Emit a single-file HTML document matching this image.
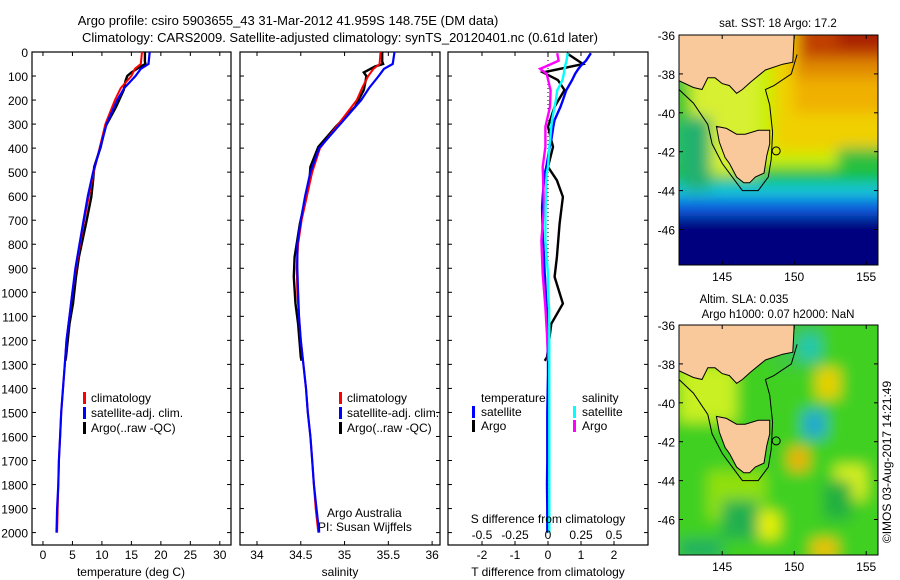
<!DOCTYPE html>
<html><head><meta charset="utf-8"><style>
body{margin:0;background:#fff;}
svg{display:block;font-family:"Liberation Sans",sans-serif;}
</style></head><body>
<svg id="c" width="900" height="580" viewBox="0 0 900 580" xmlns="http://www.w3.org/2000/svg">
<defs>
<filter id="bl" x="-20%" y="-20%" width="140%" height="140%"><feGaussianBlur stdDeviation="7"/></filter>
<clipPath id="m1"><rect x="679" y="35" width="199" height="230"/></clipPath>
<clipPath id="m2"><rect x="679" y="325" width="199" height="230"/></clipPath>
</defs>
<g font-size="13" text-anchor="middle" fill="#000">
<text x="288" y="25">Argo profile: csiro 5903655_43 31-Mar-2012 41.959S 148.75E (DM data)</text>
<text x="340" y="42">Climatology: CARS2009. Satellite-adjusted climatology: synTS_20120401.nc (0.61d later)</text>
</g>
<g id="plots"></g>
<g id="maps"></g>
<text transform="translate(891,462) rotate(-90)" font-size="12" text-anchor="middle">©IMOS 03-Aug-2017 14:21:49</text>
</svg>
<script>
// ---- data ----
const depthTicks=[0,100,200,300,400,500,600,700,800,900,1000,1100,1200,1300,1400,1500,1600,1700,1800,1900,2000];
const tTicks=[0,5,10,15,20,25,30];
const sTicks=[34,34.5,35,35.5,36];
const dTTicks=[-2,-1,0,1,2];
const dSTicks=["-0.5","-0.25","0","0.25","0.5"];
const climDepth=[0,50,70,100,150,200,300,400,500,600,700,800,900,1000,1100,1200,1300,1400,1500,1600,1700,1800,1900,2000];
const climT=[16.8,16.6,15.6,15.0,13.2,12.2,10.6,9.6,8.6,7.8,7.0,6.3,5.6,5.0,4.5,4.0,3.7,3.4,3.1,2.9,2.7,2.6,2.5,2.4];
const satT=[18.1,17.9,16.6,15.7,13.8,12.6,10.8,9.7,8.5,7.6,6.9,6.2,5.5,5.0,4.5,4.0,3.7,3.4,3.1,2.9,2.7,2.6,2.4,2.3];
const argoDepth=[0,40,50,60,85,100,120,158,228,311,395,478,534,603,714,853,936,1047,1131,1270,1285];
const argoT=[17.3,17.3,17.4,16.6,15.0,14.3,14.0,13.7,12.4,10.6,9.8,8.7,8.5,8.2,7.3,6.1,5.6,5.1,4.5,3.9,3.8];
const climS=[35.41,35.40,35.33,35.27,35.20,35.14,34.93,34.72,34.63,34.57,34.51,34.47,34.455,34.46,34.48,34.50,34.53,34.56,34.58,34.61,34.63,34.65,34.67,34.70];
const satS=[35.57,35.55,35.45,35.39,35.28,35.19,34.95,34.71,34.61,34.55,34.50,34.46,34.46,34.47,34.48,34.50,34.53,34.56,34.58,34.61,34.63,34.65,34.68,34.71];
const argoS=[35.43,35.43,35.44,35.35,35.22,35.25,35.24,35.22,35.12,34.90,34.70,34.61,34.60,34.56,34.49,34.43,34.42,34.44,34.47,34.50,34.51];
const diffDepth=[5,36,56,62,70,91,117,160,200,228,283,311,367,395,478,506,534,603,646,714,785,853,924,936,1047,1063,1131,1250,1270,1285,1340,1500,1700,1800,1900,2000];
const satDT=[1.3,1.15,1.0,0.97,0.92,0.82,0.73,0.55,0.45,0.38,0.2,0.16,0.1,0.05,-0.05,-0.1,-0.12,-0.16,-0.18,-0.17,-0.15,-0.12,-0.1,-0.09,-0.05,-0.04,-0.03,-0.01,0,0,0,-0.02,-0.02,-0.03,-0.02,-0.02];
const argoDTDepth=[5,50,85,117,158,228,311,395,478,534,603,714,853,936,1047,1131,1270,1285];
const argoDT=[0.57,1.06,-0.15,0.3,0.5,0.2,0.0,0.15,0.0,0.27,0.45,0.35,0.27,0.2,0.45,0.1,-0.03,-0.1];
const satDS=[0.15,0.14,0.13,0.13,0.125,0.12,0.11,0.07,0.06,0.05,0.03,0.025,0.015,0.01,0,-0.01,-0.012,-0.015,-0.018,-0.02,-0.02,-0.01,0,0,0.005,0.008,0.01,0.01,0.01,0.01,0.01,0.01,0.01,0.01,0.01,0.01];
const argoDSDepth=[5,36,56,70,91,160,228,311,395,478,645,785,924,1063,1250,1285];
const argoDS=[0.07,0.08,0.0,-0.06,-0.01,0.02,0.015,-0.02,-0.02,-0.04,-0.03,-0.05,-0.04,-0.02,0.0,0.0];
// ---- helpers ----
const NS="http://www.w3.org/2000/svg";
function mk(tag,attrs,parent,txt){const e=document.createElementNS(NS,tag);for(const k in attrs)e.setAttribute(k,attrs[k]);if(txt!==undefined)e.textContent=txt;parent.appendChild(e);return e;}
const yD=d=>52+d*0.2403;
const panels=[
 {x0:32,x1:231,lo:-1.86,hi:31.9,name:'temperature-panel'},
 {x0:240,x1:440,lo:33.806,hi:36.09,name:'salinity-panel'},
 {x0:448,x1:648,lo:-3.03,hi:3.03,name:'difference-panel'}];
const P=document.getElementById('plots');
function xf(p){return v=>p.x0+(v-p.lo)/(p.hi-p.lo)*(p.x1-p.x0);}
const plotTop=52,plotBot=545;
panels.forEach((p,i)=>{
 const g=mk('g',{},P);
 
 
 const r=mk('rect',{x:p.x0,y:plotTop,width:p.x1-p.x0,height:plotBot-plotTop,fill:'#fff',stroke:'#000','stroke-width':1.2},g);
 
 
 depthTicks.forEach(d=>{
  const y=yD(d);
  mk('line',{x1:p.x0,x2:p.x0+4,y1:y,y2:y,stroke:'#000'},g);
  mk('line',{x1:p.x1,x2:p.x1-4,y1:y,y2:y,stroke:'#000'},g);
  if(i===0){const t=mk('text',{x:28,y:y+5,'font-size':12,'text-anchor':'end'},g,String(d));
   
   }
 });
});
function line(p,xs,ds,color,w,nm){
 const fx=xf(p);
 const pts=xs.map((v,k)=>fx(v).toFixed(1)+','+yD(ds[k]).toFixed(1)).join(' ');
 const l=mk('polyline',{points:pts,fill:'none',stroke:color,'stroke-width':w,'stroke-linejoin':'miter'},P);
 
 
}
function xticks(p,vals,labels,ly,doTicks){
 const fx=xf(p);
 vals.forEach((v,k)=>{const x=fx(v);
  if(doTicks){mk('line',{x1:x,x2:x,y1:plotBot,y2:plotBot-4,stroke:'#000'},P);mk('line',{x1:x,x2:x,y1:plotTop,y2:plotTop+4,stroke:'#000'},P);}
  const t=mk('text',{x:x,y:ly,'font-size':12,'text-anchor':'middle'},P,labels[k]);
  
  });
}
function txt(x,y,s,nm,anchor,size){const t=mk('text',{x:x,y:y,'font-size':size||12,'text-anchor':anchor||'start'},P,s);
 
 return t;}
function mark(x,y,c,nm){const r=mk('rect',{x:x,y:y-10,width:3,height:12,fill:c},P);
 
 }
// panel 1
const p1=panels[0],p2=panels[1],p3=panels[2];
line(p1,argoT,argoDepth,'#000',2.4,'argo-temperature-line');
line(p1,climT,climDepth,'#f00',2,'climatology-temperature-line');
line(p1,satT,climDepth,'#00f',2.2,'satellite-temperature-line');
xticks(p1,tTicks,tTicks.map(String),559,true);
txt(131,576,'temperature (deg C)','x-axis-title','middle');
[['#f00','climatology'],['#00f','satellite-adj. clim.'],['#000','Argo(..raw -QC)']].forEach((e,k)=>{
 mark(83,402+k*15,e[0],'legend-marker');txt(91,402+k*15,e[1],'legend-entry');
 mark(339,402+k*15,e[0],'legend-marker');txt(347,402+k*15,e[1],'legend-entry');});
// panel 2
line(p2,argoS,argoDepth,'#000',2.4,'argo-salinity-line');
line(p2,climS,climDepth,'#f00',2,'climatology-salinity-line');
line(p2,satS,climDepth,'#00f',2.2,'satellite-salinity-line');
xticks(p2,sTicks,['34','34.5','35','35.5','36'],559,true);
txt(340,576,'salinity','x-axis-title','middle');
txt(327,517,'Argo Australia','credit-text');
txt(318,531,'PI: Susan Wijffels','pi-text');
// panel 3
const zx=xf(p3)(0);
const zl=mk('line',{x1:zx,x2:zx,y1:plotTop,y2:plotBot-10,stroke:'#000','stroke-dasharray':'1,3'},P);


const sScale=0.25;
line(p3,argoDT,argoDTDepth,'#000',2.4,'argo-temperature-difference-line');
line(p3,satDT,diffDepth,'#00f',2.4,'satellite-temperature-difference-line');
line(p3,argoDS.map(v=>v/sScale),argoDSDepth,'#f0f',2.4,'argo-salinity-difference-line');
line(p3,satDS.map(v=>v/sScale),diffDepth,'#0ff',2.4,'satellite-salinity-difference-line');
xticks(p3,dTTicks,dTTicks.map(String),559,true);
xticks(p3,dSTicks.map(v=>parseFloat(v)/sScale),dSTicks,539,false);
txt(548,523,'S difference from climatology','s-axis-title','middle');
txt(548,576,'T difference from climatology','t-axis-title','middle');
txt(481,402,'temperature','legend-title');
txt(582,402,'salinity','legend-title');
mark(472,416,'#00f','legend-marker');txt(481,416,'satellite','legend-entry');
mark(472,430,'#000','legend-marker');txt(481,430,'Argo','legend-entry');
mark(573,416,'#0ff','legend-marker');txt(582,416,'satellite','legend-entry');
mark(573,430,'#f0f','legend-marker');txt(582,430,'Argo','legend-entry');
// ---- maps ----
const lonTicks=[145,150,155];
const latTicks=[-36,-38,-40,-42,-44,-46];
const mainland=[[142,-38.35],[143,-38.7],[143.6,-38.8],[144,-38.2],[144.5,-38.2],[145,-38.5],[145.5,-38.6],[146,-39],[146.4,-38.8],[147,-38.4],[148,-37.8],[149.2,-37.5],[149.9,-37.4],[150,-36],[142,-36]];
const tasmania=[[144.6,-40.7],[145.3,-40.8],[146,-41.1],[146.6,-41.1],[147.5,-40.9],[148.3,-40.9],[148.3,-41.6],[148.1,-42.2],[147.9,-43.1],[147.3,-43.3],[146.9,-43.6],[146.5,-43.6],[146,-43.3],[145.5,-42.6],[145.2,-42.3],[144.8,-41.5]];
const shelf=[[142,-38.8],[143,-39.5],[144,-40.6],[144.3,-41.6],[145,-42.6],[145.8,-43.4],[146.4,-44],[147.5,-44],[148.2,-43.3],[148.4,-42.4],[148.5,-41],[148.3,-39.6],[148,-38.8],[148.6,-38.6],[149.8,-38],[150.2,-37]];
const M=document.getElementById('maps');
function mapAt(y0,nm,title,fills,clip){
 const fx=lon=>679+(lon-142)*14.4, fy=lat=>y0+(-36-lat)*19.45;
 const g=mk('g',{},M);
 
 
 const gc=mk('g',{'clip-path':'url(#'+clip+')'},g);
 const gb=mk('g',{filter:'url(#bl)'},gc);
 fills.forEach(f=>mk('rect',{x:fx(f[0]),y:fy(f[1]),width:(f[2]-f[0])*14.4,height:(f[1]-f[3])*19.45,fill:f[4]},gb));
 const poly=(arr,fill,stroke,pn)=>{const e=mk(fill==='none'?'polyline':'polygon',{points:arr.map(p=>fx(p[0]).toFixed(1)+','+fy(p[1]).toFixed(1)).join(' '),fill:fill,stroke:stroke,'stroke-width':1},gc);
  
  };
 poly(shelf,'none','#000','shelf-contour');
 poly(mainland,'#f9c99b','#000','mainland-australia');
 poly(tasmania,'#f9c99b','#000','tasmania');
 const c=mk('circle',{cx:fx(148.75),cy:fy(-41.96),r:4,fill:'none',stroke:'#000'},gc);
 
 
 mk('rect',{x:679,y:y0,width:199,height:230,fill:'none',stroke:'#000'},g);
 lonTicks.forEach(l=>{const x=fx(l);mk('line',{x1:x,x2:x,y1:y0,y2:y0+4,stroke:'#000'},g);mk('line',{x1:x,x2:x,y1:y0+230,y2:y0+226,stroke:'#000'},g);
  const t=mk('text',{x:x,y:y0+246,'font-size':12,'text-anchor':'middle'},g,String(l));
  
  });
 latTicks.forEach(l=>{const y=fy(l);mk('line',{x1:679,x2:683,y1:y,y2:y,stroke:'#000'},g);mk('line',{x1:878,x2:874,y1:y,y2:y,stroke:'#000'},g);
  const t=mk('text',{x:675,y:y+5,'font-size':12,'text-anchor':'end'},g,String(l));
  
  });
 title.forEach(s=>{const t=mk('text',{x:s[1],y:s[2],'font-size':11.5,'text-anchor':'middle'},g,s[0]);
  
  });
}
const sstFills=[[140,-34,158,-50,'#00007f'],[140,-34,158,-45.3,'#0c5ce0'],[140,-34,158,-44.4,'#12c8d8'],[140,-34,158,-43.6,'#10c040'],[140,-34,142.8,-43,'#28c060'],
 [142.5,-34,158,-42.8,'#c8f000'],[142.8,-34,147.5,-43.2,'#d8f030'],[148.6,-34,158,-42,'#f0d000'],[150,-34,158,-40,'#f0b000'],[150,-34,158,-38.2,'#e08a00'],[150.5,-34,158,-37.2,'#c04000'],[153,-34,158,-36.7,'#a82000'],
 [140,-38.5,142.8,-40.5,'#40c830'],[142.3,-40.2,144.2,-44,'#20b070'],[153,-41.8,158,-42.8,'#30c040']];
const slaFills=[[140,-34,158,-50,'#40d020'],[142,-38,146,-41,'#c8f020'],[144,-43.5,148,-46,'#90e010'],[148.5,-34,152,-38.3,'#40c840'],[150.3,-36.5,151.8,-37.8,'#20c8b0'],
 [151.5,-38.2,153.2,-39.8,'#e8d000'],[150.6,-40.4,152.2,-41.8,'#20a8d0'],[149.6,-42.3,151,-43.5,'#f0b000'],[152.8,-43.2,155,-45,'#d8f020'],[147.5,-45.6,149,-47,'#e8f000'],
 [151.2,-47,153,-48,'#f0c000'],[145,-45,147.5,-47,'#20b050'],[152,-44,154,-46,'#20b040'],[142,-47,145,-48,'#20b060']];
mapAt(35,'sst-map',[['sat. SST: 18 Argo: 17.2',778,27]],sstFills,'m1');
mapAt(325,'sla-map',[['Altim. SLA: 0.035',744,303],['Argo h1000: 0.07 h2000: NaN',778,318]],slaFills,'m2');
</script>
</body></html>
